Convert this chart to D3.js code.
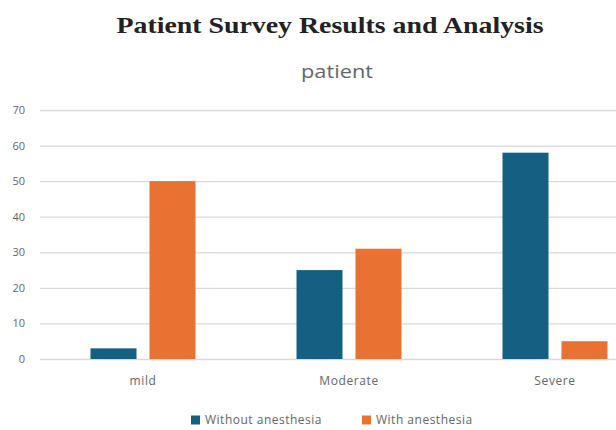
<!DOCTYPE html>
<html>
<head>
<meta charset="utf-8">
<script src="https://cdn.jsdelivr.net/npm/d3@7"></script>
<style>
  body { margin: 0; background: #fff; }
  svg { display: block; }
</style>
</head>
<body>
<svg width="616" height="430"></svg>
<script>
// Survey bar chart, two series per severity group

var categories = ["mild", "Moderate", "Severe"];
var seriesNames = ["Without anesthesia", "With anesthesia"];
var withoutAnesthesia = [3, 25, 58];
var withAnesthesia = [50, 31, 5];
var yTicks = [0, 10, 20, 30, 40, 50, 60, 70];

var colors = ["#156082", "#e97132"];

var svg = d3.select("svg"),
  width = +svg.attr("width"),
  height = +svg.attr("height");

var plotLeft = 40, plotRight = 658, plotTop = 110, plotBottom = 359;

var x0 = d3.scaleBand().domain(categories).range([plotLeft, plotRight]).padding(0);
var half = 52.5;
var x1 = d3.scaleBand().domain(seriesNames)
  .range([x0.bandwidth() / 2 - half, x0.bandwidth() / 2 + half])
  .paddingInner(0.22).paddingOuter(0);
var y = d3.scaleLinear().domain([0, 70]).range([plotBottom, plotTop]);

// titles
svg.append("text")
  .attr("x", 330).attr("y", 33)
  .attr("text-anchor", "middle")
  .attr("textLength", 427)
  .attr("lengthAdjust", "spacingAndGlyphs")
  .style("font-family", "'Liberation Serif', 'Times New Roman', serif")
  .style("font-weight", "bold")
  .style("font-size", "23px")
  .attr("fill", "#222")
  .text("Patient Survey Results and Analysis");

svg.append("text")
  .attr("x", 337).attr("y", 78)
  .attr("text-anchor", "middle")
  .attr("textLength", 72)
  .attr("lengthAdjust", "spacingAndGlyphs")
  .style("font-family", "'Open Sans', sans-serif")
  .style("font-size", "18px")
  .attr("fill", "#666")
  .text("patient");

// gridlines + y labels
var yAxis = d3.axisLeft(y).tickValues(yTicks).tickSize(-(width - plotLeft)).tickPadding(15);
var gy = svg.append("g").attr("transform", "translate(" + plotLeft + ",0)").call(yAxis);
gy.select(".domain").remove();
gy.selectAll(".tick line").attr("stroke", "#d9d9d9").attr("stroke-width", 1.3);
gy.selectAll(".tick text")
  .style("font-family", "'Open Sans', sans-serif")
  .style("font-size", "11px")
  .attr("fill", "#666");

// bars
var rows = categories.map(function (c, i) {
  return { cat: c, values: [withoutAnesthesia[i], withAnesthesia[i]] };
});

var groups = svg.selectAll(".group")
  .data(rows)
  .enter()
  .append("g")
  .attr("class", "group")
  .attr("transform", function (d) { return "translate(" + x0(d.cat) + ",0)"; });

groups.selectAll("rect")
  .data(function (d) {
    return d.values.map(function (v, j) { return { name: seriesNames[j], value: v, j: j }; });
  })
  .enter()
  .append("rect")
  .attr("x", function (d) { return x1(d.name); })
  .attr("y", function (d) { return y(d.value); })
  .attr("width", x1.bandwidth())
  .attr("height", function (d) { return plotBottom - y(d.value); })
  .attr("fill", function (d) { return colors[d.j]; });

// x axis labels
var xAxis = d3.axisBottom(x0).tickSize(0).tickPadding(17);
var gx = svg.append("g").attr("transform", "translate(0," + plotBottom + ")").call(xAxis);
gx.select(".domain").remove();
gx.selectAll(".tick text")
  .style("font-family", "'Open Sans', sans-serif")
  .style("font-size", "12px")
  .style("letter-spacing", "0.6px")
  .attr("fill", "#666");

// legend
var legendX = [191, 362];
var legend = svg.selectAll(".legend")
  .data(seriesNames)
  .enter()
  .append("g")
  .attr("class", "legend")
  .attr("transform", function (d, i) { return "translate(" + legendX[i] + ",420)"; });

legend.append("rect")
  .attr("x", 0).attr("y", -4.5)
  .attr("width", 9).attr("height", 9)
  .attr("fill", function (d, i) { return colors[i]; });

legend.append("text")
  .attr("x", 14).attr("y", 4)
  .style("font-family", "'Open Sans', sans-serif")
  .style("font-size", "12px")
  .style("letter-spacing", "0.5px")
  .attr("fill", "#666")
  .text(function (d) { return d; });
</script>
</body>
</html>
